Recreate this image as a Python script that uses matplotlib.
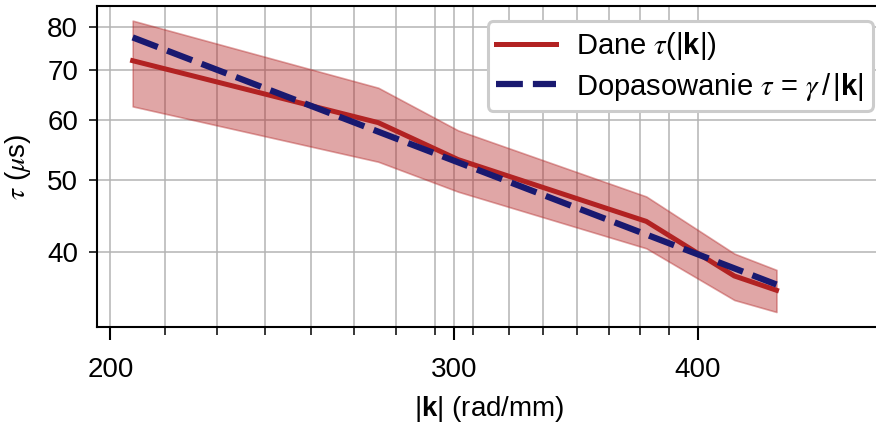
import matplotlib
matplotlib.use("Agg")
import matplotlib.pyplot as plt
from matplotlib.ticker import FixedLocator, NullFormatter, NullLocator
import numpy as np

# wavenumber |k| (rad/mm) and measured tau (us) with its uncertainty
k_vals = [205.3, 274.3, 301.4, 376.3, 417.5, 438.8]
tau_vals = [72.1, 59.6, 53.2, 44.0, 37.2, 35.6]
tau_err = [9.45, 6.75, 5.0, 3.5, 2.65, 2.3]
gamma = 15900.0  # fitted tau = gamma/|k|

x_major = [200, 300, 400]
x_minor = [200 + 40.0 / 3 * n for n in range(1, 15)]
y_ticks = [40, 50, 60, 70, 80]

plt.rcParams['font.family'] = ['Liberation Sans', 'DejaVu Sans']
plt.rcParams['mathtext.fontset'] = 'custom'
plt.rcParams['mathtext.rm'] = 'Liberation Sans'
plt.rcParams['mathtext.it'] = 'STIXGeneral:italic'
plt.rcParams['mathtext.bf'] = 'Liberation Sans:bold'
plt.rcParams['font.size'] = 20


def main():
    k = np.array(k_vals)
    tau = np.array(tau_vals)
    err = np.array(tau_err)

    fig = plt.figure(figsize=(8.76, 4.25), dpi=100)
    ax = fig.add_axes([0.111, 0.2306, 0.894, 0.7553])
    ax.set_xscale('log')
    ax.set_yscale('log')

    ax.fill_between(k, tau - err, tau + err, color='firebrick', alpha=0.4,
                    linewidth=1.2, zorder=2)
    ax.plot(k, tau, color='firebrick', linewidth=3.6, zorder=3,
            label=r'Dane $\tau(|\mathbf{k}|)$')
    ax.plot(k, gamma / k, color='midnightblue', linewidth=4.5, zorder=4,
            dashes=(4.3, 1.6), label=r'Dopasowanie $\tau$ = $\gamma\,/\,|\mathbf{k}|$')

    ax.set_xlim(196.9, 496)
    ax.set_ylim(31.8, 85.3)

    ax.xaxis.set_major_locator(FixedLocator(x_major))
    ax.xaxis.set_minor_locator(FixedLocator(x_minor))
    ax.xaxis.set_minor_formatter(NullFormatter())
    ax.set_xticklabels([str(v) for v in x_major])
    ax.yaxis.set_major_locator(FixedLocator(y_ticks))
    ax.yaxis.set_minor_locator(NullLocator())
    ax.set_yticklabels([str(v) for v in y_ticks])

    ax.tick_params(axis='x', which='major', length=9.4, width=1.5, pad=12)
    ax.tick_params(axis='x', which='minor', length=5.8, width=1.1)
    ax.tick_params(axis='y', which='major', length=5.8, width=1.1, pad=8)

    ax.grid(True, which='both', axis='x', color='#b4b4b4', linewidth=1.1, zorder=0)
    ax.grid(True, which='major', axis='y', color='#b4b4b4', linewidth=1.1, zorder=0)
    ax.set_axisbelow(True)

    for s in ax.spines.values():
        s.set_linewidth(1.5)
    ax.spines['right'].set_visible(False)

    ax.set_xlabel(r'$|\mathbf{k}|$ (rad/mm)', labelpad=8)
    ax.set_ylabel(r'$\tau$ ($\mu$s)', labelpad=10)

    leg = ax.legend(loc='upper right', bbox_to_anchor=(0.99, 0.953),
                    borderaxespad=0, framealpha=1, fancybox=True, fontsize=21,
                    handlelength=2.05, handletextpad=0.69, borderpad=0.3,
                    labelspacing=0.3)
    leg.get_frame().set_edgecolor('#cccccc')
    leg.get_frame().set_linewidth(2.2)

    fig.savefig('out.png', dpi=100)
    plt.close(fig)


if __name__ == '__main__':
    main()
